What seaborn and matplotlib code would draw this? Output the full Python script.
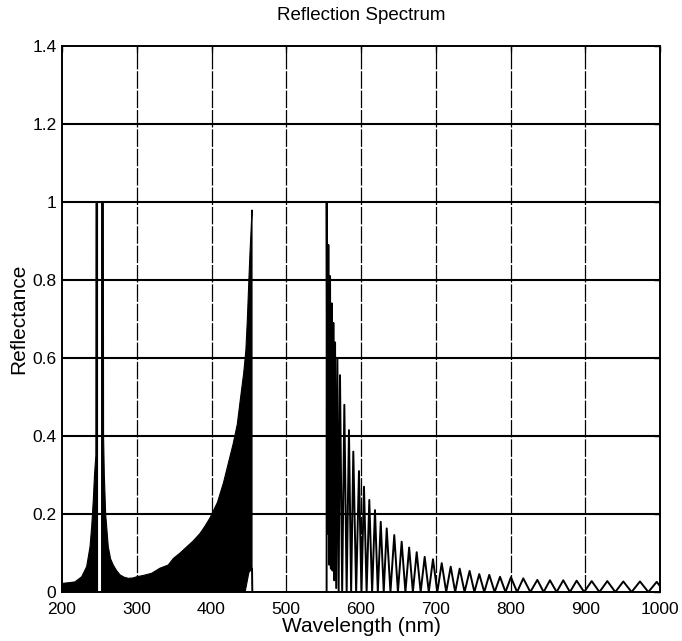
import numpy as np
import pandas as pd
import matplotlib
matplotlib.use("Agg")
import matplotlib.pyplot as plt
import seaborn as sns

# ---------------- data ----------------
# dense region A (UV peak, left flank) : upper envelope, filled down to 0
env_a_wl = [200, 210, 217.4, 226.3, 233, 237.5, 239.7, 241.9, 243.5, 245.3, 245.5, 247.5]
env_a_r = [0.022, 0.024, 0.026, 0.039, 0.065, 0.116, 0.167, 0.236, 0.30, 0.35, 1.0, 1.0]
# flat top of the UV band (reflectance 1)
band_wl = [247.5, 253.0]
band_r = [1.0, 1.0]
# dense region B : upper envelope
env_b_wl = [253, 255.3, 255.6, 256.6, 258.4, 261.9, 265, 268.6, 273, 277.6, 283, 288.7,
            295, 300, 310, 320, 331, 342, 349, 358, 367, 375, 384.6, 391, 398, 408, 416,
            422.5, 429, 434.5, 439, 443, 446, 448, 450, 451.5, 453, 454.2]
env_b_r = [1.0, 1.0, 0.40, 0.30, 0.20, 0.116, 0.085, 0.069, 0.055, 0.044, 0.038, 0.035,
           0.036, 0.039, 0.043, 0.048, 0.061, 0.069, 0.086, 0.10, 0.116, 0.13, 0.15, 0.168,
           0.19, 0.23, 0.28, 0.33, 0.38, 0.43, 0.50, 0.56, 0.62, 0.70, 0.80, 0.87, 0.93, 0.98]
# dense region B : lower envelope
low_b_wl = [253, 445, 450, 454.2]
low_b_r = [0.0, 0.0, 0.05, 0.06]
# zero-reflectance gap
gap_wl = [454.2, 454.6, 554.0]
gap_r = [0.06, 0.0, 0.0]
# resolved fringes (peaks and troughs) above 554 nm
peak_wl = [554.1, 556.3, 558.6, 560.8, 563.0, 565.3, 568.4, 571.9, 577.7, 583.9, 589.7,
           597.3, 604.0, 611.1, 618.7, 626.4, 634.4, 644.5, 654.4, 664.4, 674.5, 685.2,
           696.3, 708.0, 720.0, 732.0, 745.3, 758.2, 771.6, 786.0, 800.6, 817.1, 835.9,
           852.8, 870.6, 888.5, 908.6, 929.5, 950.9, 973.2, 995.6]
peak_r = [0.997, 0.89, 0.81, 0.74, 0.69, 0.64, 0.60, 0.556, 0.48, 0.415, 0.36, 0.31, 0.27,
          0.236, 0.21, 0.18, 0.163, 0.146, 0.129, 0.114, 0.102, 0.09, 0.084, 0.074, 0.065,
          0.06, 0.054, 0.046, 0.044, 0.039, 0.038, 0.035, 0.031, 0.030, 0.030, 0.029,
          0.028, 0.028, 0.027, 0.027, 0.026]
trough_wl = [554.0, 555.2, 557.4, 559.7, 561.9, 564.2, 566.8, 570.1, 574.8, 580.8, 586.8,
             593.5, 600.6, 607.5, 614.9, 622.5, 630.4, 639.4, 649.4, 659.4, 669.4, 679.8,
             690.7, 702.1, 714.0, 726.0, 738.6, 751.7, 764.9, 778.8, 793.3, 808.8, 826.5,
             844.3, 861.7, 879.5, 898.5, 919.0, 940.2, 962.0, 984.4]
trough_r = [0.0, 0.15, 0.07, 0.06, 0.055, 0.03, 0.01] + [0.0] * 34
end_wl = [1000.0]
end_r = [0.015]

x_ticks = [200, 300, 400, 500, 600, 700, 800, 900, 1000]
y_ticks = [0, 0.2, 0.4, 0.6, 0.8, 1.0, 1.2, 1.4]
y_tick_labels = ["0", "0.2", "0.4", "0.6", "0.8", "1", "1.2", "1.4"]

# ---------------- figure ----------------
sns.set_style("white")
plt.rcParams["font.family"] = ["Liberation Sans", "DejaVu Sans"]
plt.rcParams["text.color"] = "black"
plt.rcParams["axes.labelcolor"] = "black"

fig = plt.figure(figsize=(6.82, 6.41), dpi=100)
ax = fig.add_axes([62 / 682, 1 - 592 / 641, 598 / 682, 546 / 641])

# dense regions drawn as filled envelopes
ax.fill(env_a_wl + [247.5, 200], env_a_r + [0.0, 0.0], color="black", lw=0.8, zorder=3)
ax.fill(env_b_wl + low_b_wl[::-1], env_b_r + low_b_r[::-1], color="black", lw=0.8, zorder=3)

lw = 1.4
sns.lineplot(x=band_wl, y=band_r, ax=ax, color="black", lw=lw, estimator=None, sort=False, zorder=4)
sns.lineplot(x=gap_wl, y=gap_r, ax=ax, color="black", lw=lw, estimator=None, sort=False, zorder=4)

fr_wl, fr_r = [], []
for tw, tr, pw, pr in zip(trough_wl, trough_r, peak_wl, peak_r):
    fr_wl += [tw, pw]
    fr_r += [tr, pr]
fr_wl += end_wl
fr_r += end_r
fr = pd.DataFrame({"wl": fr_wl, "r": fr_r})
sns.lineplot(data=fr, x="wl", y="r", ax=ax, color="black", lw=lw, estimator=None, sort=False, zorder=4)

ax.set_xlim(200, 1000)
ax.set_ylim(0, 1.4)
ax.set_xticks(x_ticks)
ax.set_xticklabels([str(v) for v in x_ticks])
ax.set_yticks(y_ticks)
ax.set_yticklabels(y_tick_labels)

for y in y_ticks[1:-1]:
    ax.axhline(y, color="black", lw=1.5, zorder=1)
for x in x_ticks[1:-1]:
    ax.axvline(x, color="black", lw=0.9, ls=(0, (14, 1.5)), zorder=1)

for s in ax.spines.values():
    s.set_color("black")
    s.set_linewidth(1.4)
    s.set_visible(True)

ax.tick_params(axis="both", direction="in", length=4, width=1, colors="black",
               labelcolor="black", labelsize=12.5, top=True, right=True)
ax.tick_params(axis="x", pad=7)
ax.tick_params(axis="y", pad=4)
ax.set_xlabel("Wavelength (nm)", fontsize=15, labelpad=0, color="black")
ax.set_ylabel("Reflectance", fontsize=15, labelpad=3, color="black")
ax.set_title("Reflection Spectrum", fontsize=13.5, pad=19, color="black")

fig.savefig("out.png", dpi=100, facecolor="white")
